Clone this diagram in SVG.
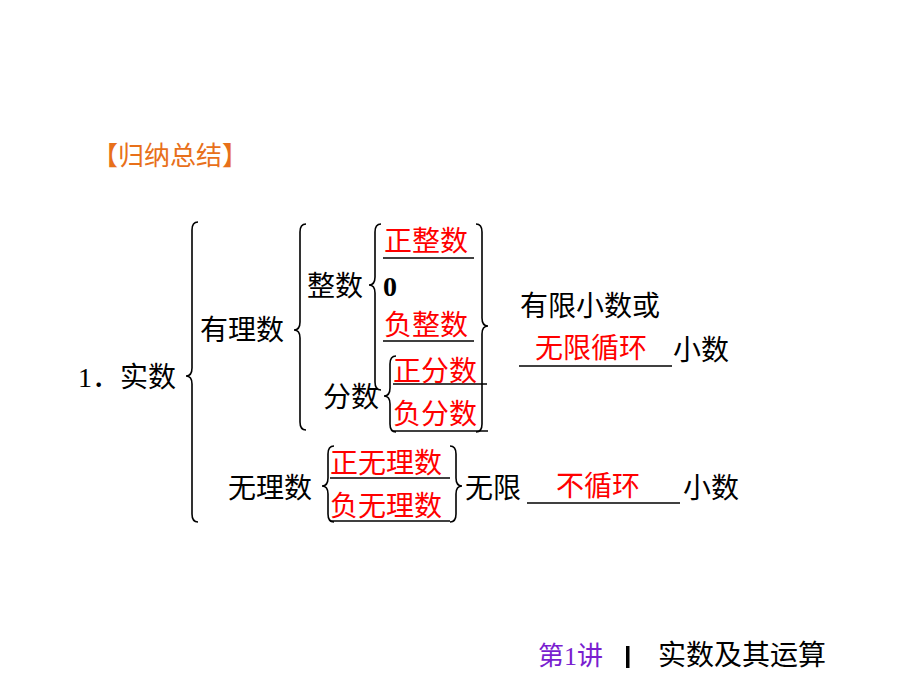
<svg xmlns="http://www.w3.org/2000/svg" width="920" height="690" viewBox="0 0 920 690">
<style>
text{font-family:"Liberation Serif","Noto Sans CJK SC",serif;font-size:28px;fill:#000}
.r{fill:#ff0000}
.o{fill:#e8701a;font-family:"Noto Sans CJK SC",sans-serif;font-size:26px}
.p{fill:#7a1fd0;font-size:26px}
.b{fill:none;stroke:#000;stroke-width:1.6}
.u{stroke:#000;stroke-width:1.3}
</style>
<rect width="920" height="690" fill="#fff"/>
<text class="o" x="92" y="165">【归纳总结】</text>
<g id="connectors">
<path class="b" d="M198,222 Q192,222 192,230 L192,368 Q192,376 186,376 Q192,376 192,384 L192,514 Q192,522 198,522"/>
<path class="b" d="M306,224 Q300,224 300,232 L300,322 Q300,330 294,330 Q300,330 300,338 L300,422 Q300,430 306,430"/>
<path class="b" d="M381,224 Q375,224 375,232 L375,277 Q375,285 369,285 Q375,285 375,293 L375,382 Q375,390 381,390"/>
<path class="b" d="M476,224 Q482,224 482,232 L482,318 Q482,326 488,326 Q482,326 482,334 L482,424 Q482,432 476,432"/>
<path class="b" d="M396,356 Q390,356 390,364 L390,388 Q390,396 384,396 Q390,396 390,404 L390,424 Q390,432 396,432"/>
<path class="b" d="M334,446 Q328,446 328,454 L328,478 Q328,486 322,486 Q328,486 328,494 L328,514 Q328,522 334,522"/>
<path class="b" d="M450,446 Q456,446 456,454 L456,478 Q456,486 462,486 Q456,486 456,494 L456,514 Q456,522 450,522"/>
<line class="u" x1="383" y1="258" x2="474" y2="258"/>
<line class="u" x1="383" y1="341" x2="474" y2="341"/>
<line class="u" x1="393" y1="384" x2="487" y2="384"/>
<line class="u" x1="393" y1="431" x2="488" y2="431"/>
<line class="u" x1="519" y1="366" x2="672" y2="366"/>
<line class="u" x1="330" y1="478" x2="450" y2="478"/>
<line class="u" x1="330" y1="521" x2="450" y2="521"/>
<line class="u" x1="527" y1="503" x2="680" y2="503"/>
</g>
<g id="n1"><text x="78" y="387">1．实数</text></g>
<g id="n2"><text x="200" y="340">有理数</text></g>
<g id="n3"><text x="307" y="296">整数</text></g>
<g id="n4"><text class="r" x="384" y="251">正整数</text></g>
<g id="n5"><text x="383" y="296" font-weight="bold">0</text></g>
<g id="n6"><text class="r" x="384" y="335">负整数</text></g>
<g id="n7"><text x="323" y="407">分数</text></g>
<g id="n8"><text class="r" x="393" y="381">正分数</text></g>
<g id="n9"><text class="r" x="393" y="424">负分数</text></g>
<g id="n10"><text x="520" y="316">有限小数或</text><text class="r" x="535" y="358">无限循环</text><text x="673" y="360">小数</text></g>
<g id="n11"><text x="228" y="498">无理数</text></g>
<g id="n12"><text class="r" x="330" y="473">正无理数</text></g>
<g id="n13"><text class="r" x="330" y="516">负无理数</text></g>
<g id="n14"><text x="465" y="498">无限</text><text class="r" x="556" y="496">不循环</text><text x="683" y="498">小数</text></g>
<g id="footer"><text class="p" x="538" y="665">第1讲</text><rect x="626" y="646" width="3.5" height="22" fill="#000"/><text x="658" y="665" font-size="26">实数及其运算</text></g>
</svg>
